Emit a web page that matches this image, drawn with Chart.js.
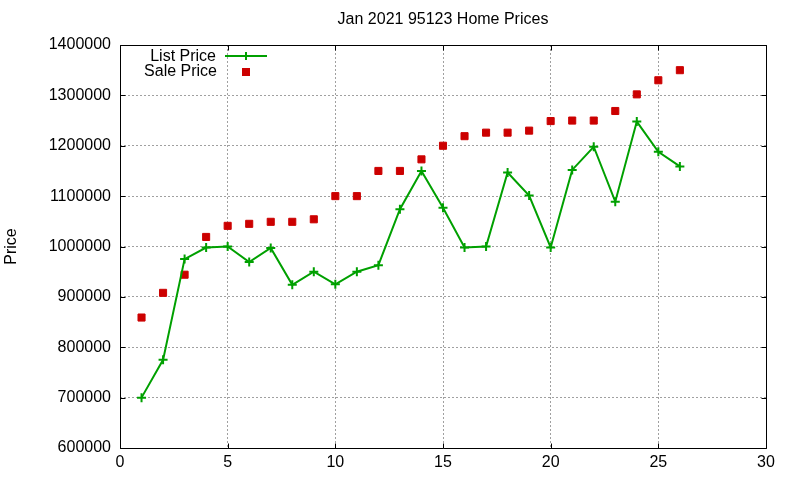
<!DOCTYPE html>
<html><head><meta charset="utf-8">
<script src="https://cdn.jsdelivr.net/npm/chart.js@4/dist/chart.umd.min.js"></script>
<style>html,body{margin:0;padding:0;background:#fff}canvas{display:block}</style>
</head><body>
<canvas id="c" width="800" height="480"></canvas>
<script>
const chartTitle = 'Jan 2021 95123 Home Prices';
const yAxisTitle = 'Price';
const seriesNames = ['List Price', 'Sale Price'];
const days = [1,2,3,4,5,6,7,8,9,10,11,12,13,14,15,16,17,18,19,20,21,22,23,24,25,26];
const listPrice = [700000,775000,975000,998000,1000000,969000,997000,924000,950000,925000,
                   950000,963000,1074000,1150000,1077000,998000,1000000,1147000,1101000,998000,
                   1152000,1198000,1089000,1248000,1188000,1159000];
const salePrice = [859000,908000,944000,1019000,1041000,1045000,1049000,1049000,1054000,1100000,
                   1100000,1150000,1150000,1173000,1200000,1219000,1226000,1226000,1230000,1249000,
                   1250000,1250000,1269000,1302000,1330000,1350000];
const xTickValues = [0,5,10,15,20,25,30];
const yTickValues = [600000,700000,800000,900000,1000000,1100000,1200000,1300000,1400000];

const FONT = '"Liberation Sans", Arial, sans-serif';
const GREEN = '#00a000';
const RED = '#cc0000';

const framePlugin = {
  id: 'gnuplotFrame',
  afterDraw(chart) {
    const ctx = chart.ctx;
    const a = chart.chartArea;
    const xs = chart.scales.x, ys = chart.scales.y;
    ctx.save();
    ctx.strokeStyle = '#000';
    ctx.lineWidth = 1;
    const L = Math.round(a.left) + 0.5, R = Math.round(a.right) + 0.5;
    const T = Math.round(a.top) + 0.5, B = Math.round(a.bottom) + 0.5;
    ctx.beginPath();
    ctx.rect(L, T, R - L, B - T);
    ctx.stroke();
    const tl = 5;
    ctx.beginPath();
    xTickValues.forEach(v => {
      const p = Math.round(xs.getPixelForValue(v)) + 0.5;
      ctx.moveTo(p, B); ctx.lineTo(p, B - tl);
      ctx.moveTo(p, T); ctx.lineTo(p, T + tl);
    });
    yTickValues.forEach(v => {
      const p = Math.round(ys.getPixelForValue(v)) + 0.5;
      ctx.moveTo(L, p); ctx.lineTo(L + tl, p);
      ctx.moveTo(R, p); ctx.lineTo(R - tl, p);
    });
    ctx.stroke();

    // title
    ctx.fillStyle = '#000';
    ctx.font = '16px ' + FONT;
    ctx.textAlign = 'center';
    ctx.textBaseline = 'middle';
    ctx.fillText(chartTitle, (a.left + a.right) / 2, 20);

    // legend
    ctx.textAlign = 'right';
    ctx.textBaseline = 'alphabetic';
    ctx.fillText(seriesNames[0], 216, 61);
    ctx.fillText(seriesNames[1], 217, 76);
    ctx.strokeStyle = GREEN;
    ctx.lineWidth = 2;
    ctx.beginPath();
    ctx.moveTo(225, 56); ctx.lineTo(267, 56);
    ctx.moveTo(246, 52); ctx.lineTo(246, 60);
    ctx.stroke();
    ctx.fillStyle = RED;
    ctx.fillRect(242, 68, 8, 8);
    ctx.restore();
  }
};

new Chart(document.getElementById('c'), {
  type: 'scatter',
  data: {
    datasets: [
      {
        label: seriesNames[0],
        data: days.map((d, i) => ({x: d, y: listPrice[i]})),
        showLine: true,
        borderColor: GREEN,
        backgroundColor: GREEN,
        borderWidth: 2,
        pointStyle: 'cross',
        pointRadius: 4.5,
        pointBorderWidth: 2,
        pointBorderColor: GREEN,
        tension: 0,
        order: 1
      },
      {
        label: seriesNames[1],
        data: days.map((d, i) => ({x: d, y: salePrice[i]})),
        showLine: false,
        borderColor: RED,
        backgroundColor: RED,
        pointStyle: 'rect',
        pointRadius: 5,
        pointBorderWidth: 1,
        order: 2
      }
    ]
  },
  options: {
    responsive: false,
    animation: false,
    devicePixelRatio: 1,
    layout: { padding: { left: 0, right: 34, top: 45, bottom: 0 } },
    plugins: {
      legend: { display: false },
      title: { display: false },
      tooltip: { enabled: false }
    },
    scales: {
      x: {
        type: 'linear',
        min: 0, max: 30,
        afterFit: s => { s.height = 32; },
        ticks: { stepSize: 5, padding: 5, color: '#000', font: { family: FONT, size: 16 } },
        grid: { color: '#a0a0a0', lineWidth: 1, drawTicks: false },
        border: { display: false, dash: [2, 2] }
      },
      y: {
        type: 'linear',
        min: 600000, max: 1400000,
        afterFit: s => { s.width = 120; },
        ticks: { stepSize: 100000, padding: 9, color: '#000', font: { family: FONT, size: 16 },
                 callback: v => String(v) },
        grid: { color: '#a0a0a0', lineWidth: 1, drawTicks: false },
        border: { display: false, dash: [2, 2] },
        title: { display: true, text: yAxisTitle, color: '#000', font: { family: FONT, size: 16 },
                 padding: { top: 2, bottom: 0 } }
      }
    }
  },
  plugins: [framePlugin]
});
</script>
</body></html>
